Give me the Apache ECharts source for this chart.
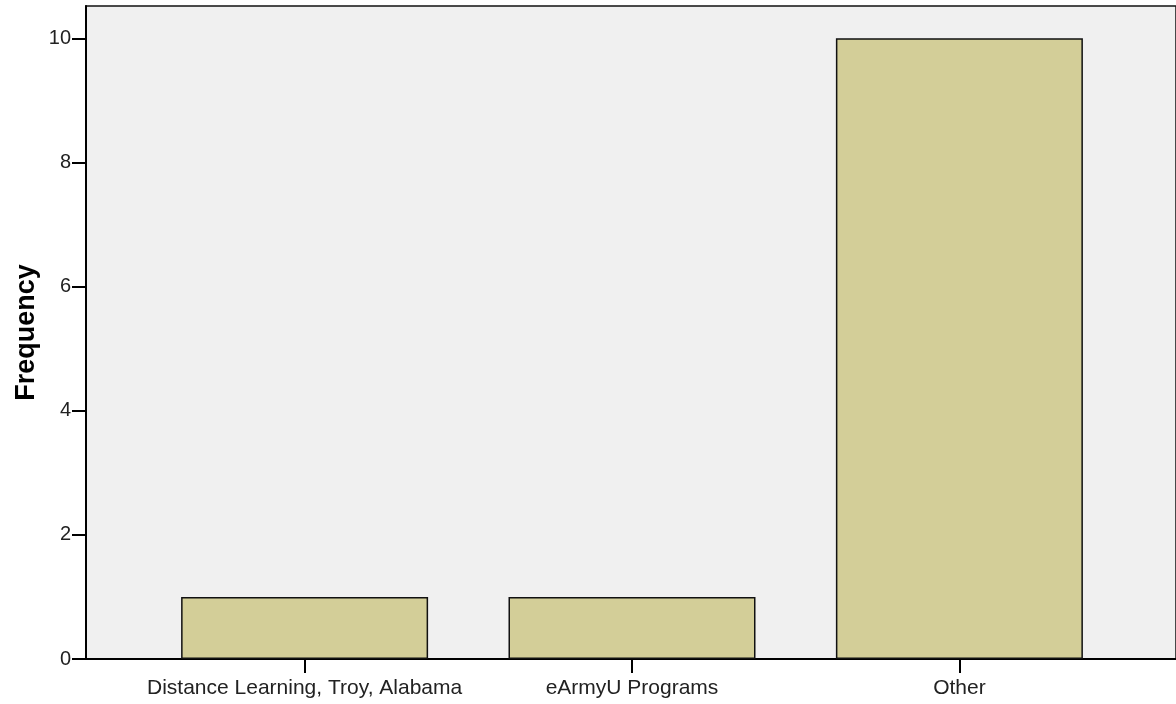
<!DOCTYPE html>
<html>
<head>
<meta charset="utf-8">
<script src="https://cdn.jsdelivr.net/npm/echarts@6/dist/echarts.min.js"></script>
<style>
html,body{margin:0;padding:0;background:#fff;}
#chart{width:1176px;height:704px;}
</style>
</head>
<body>
<div id="chart"></div>
<script>
const categories = ["Distance Learning, Troy, Alabama", "eArmyU Programs", "Other"];
const frequency = [1, 1, 10];
const yTicks = [0, 2, 4, 6, 8, 10];

const chart = echarts.init(document.getElementById('chart'));
const catIdx = categories.map((c, i) => i);
chart.setOption({
  animation: false,
  grid: {
    left: 86, right: -2, top: 6, bottom: 45,
    show: true, backgroundColor: '#F0F0F0', borderColor: '#111', borderWidth: 1.5
  },
  xAxis: {
    type: 'value',
    min: -0.6677, max: 2.6616,
    splitLine: { show: false },
    axisLine: { show: true, onZero: false, lineStyle: { color: '#000', width: 2 } },
    axisTick: { show: true, customValues: catIdx, length: 14, lineStyle: { color: '#000', width: 2 } },
    axisLabel: {
      customValues: catIdx,
      formatter: v => categories[Math.round(v)],
      color: '#222', fontFamily: 'Liberation Sans, Arial', fontSize: 21, margin: 19
    }
  },
  yAxis: {
    type: 'value', min: 0, max: 10.52, interval: 2,
    name: 'Frequency', nameLocation: 'middle', nameGap: 46, nameRotate: 90,
    nameMoveOverlap: false,
    nameTextStyle: { color: '#000', fontFamily: 'Liberation Sans, Arial', fontSize: 27, fontWeight: 'bold' },
    splitLine: { show: false },
    axisLine: { show: true, onZero: false, lineStyle: { color: '#000', width: 2 } },
    axisTick: { show: true, customValues: yTicks, length: 14, lineStyle: { color: '#000', width: 2 } },
    axisLabel: {
      customValues: yTicks,
      color: '#222', fontFamily: 'Liberation Sans, Arial', fontSize: 20, margin: 15
    }
  },
  series: [{
    type: 'bar',
    barWidth: 247,
    data: frequency.map((v, i) => [i, v]),
    itemStyle: { color: '#D3CE98', borderColor: '#111', borderWidth: 1.5 }
  }]
});
</script>
</body>
</html>
